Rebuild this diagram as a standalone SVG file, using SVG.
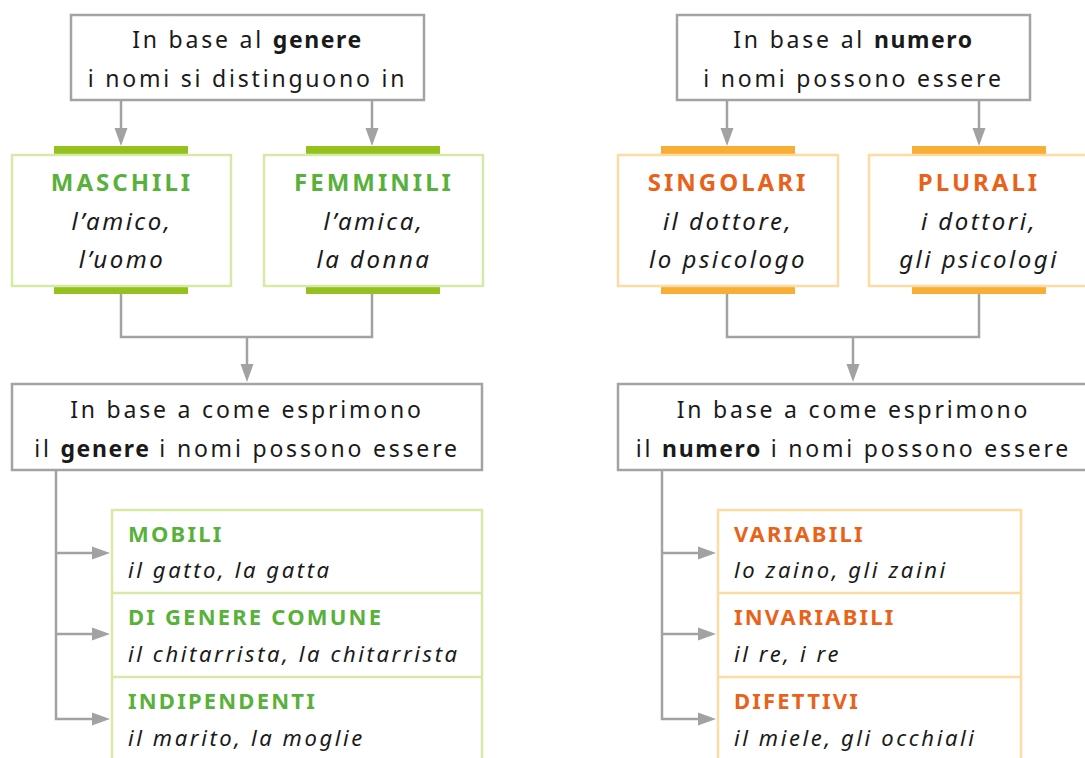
<svg xmlns="http://www.w3.org/2000/svg" width="1085" height="758" viewBox="0 0 1085 758">
<style>
.bg{fill:#ffffff}
.gbox{fill:#ffffff;stroke:#a3a3a3;stroke-width:2.5}
.grn{fill:#ffffff;stroke:#d6e9a6;stroke-width:2.5}
.org{fill:#ffffff;stroke:#fedba5;stroke-width:2.5}
.gbar{fill:#95c11f}
.obar{fill:#f8ae35}
.ln{fill:none;stroke:#a2a2a2;stroke-width:2.5}
.ah{fill:#a2a2a2}
text{font-family:"Noto Sans","Open Sans","DejaVu Sans",sans-serif;fill:#1a1a1a}
.t{font-size:23px;letter-spacing:2.8px;text-anchor:middle}
.b{font-weight:700;letter-spacing:1.6px}
.cat{font-size:24px;font-weight:700;letter-spacing:3px;text-anchor:middle}
.ex{font-size:24px;font-style:italic;letter-spacing:2.5px;text-anchor:middle}
.lab{font-size:22px;font-weight:700;letter-spacing:2.2px}
.lex{font-size:22px;font-style:italic;letter-spacing:2.6px}
.gt{fill:#58b13a}
.ot{fill:#e9621a}
</style>
<rect class="bg" x="0" y="0" width="1085" height="758"/>

<g id="connectors">
  <line class="ln" x1="121" y1="101" x2="121" y2="132"/>
  <polygon class="ah" points="114.5,128 127.5,128 121,146"/>
  <line class="ln" x1="372" y1="101" x2="372" y2="132"/>
  <polygon class="ah" points="365.5,128 378.5,128 372,146"/>
  <polyline class="ln" points="121,294 121,337 372,337 372,294"/>
  <line class="ln" x1="247" y1="337" x2="247" y2="368"/>
  <polygon class="ah" points="240.5,364 253.5,364 247,382"/>
  <polyline class="ln" points="56,470 56,719 95,719"/>
  <line class="ln" x1="56" y1="553" x2="95" y2="553"/>
  <line class="ln" x1="56" y1="634" x2="95" y2="634"/>
  <polygon class="ah" points="92,546.5 92,559.5 110,553"/>
  <polygon class="ah" points="92,627.5 92,640.5 110,634"/>
  <polygon class="ah" points="92,712.5 92,725.5 110,719"/>
  <line class="ln" x1="727" y1="101" x2="727" y2="132"/>
  <polygon class="ah" points="720.5,128 733.5,128 727,146"/>
  <line class="ln" x1="979" y1="101" x2="979" y2="132"/>
  <polygon class="ah" points="972.5,128 985.5,128 979,146"/>
  <polyline class="ln" points="727,294 727,337 979,337 979,294"/>
  <line class="ln" x1="853" y1="337" x2="853" y2="368"/>
  <polygon class="ah" points="846.5,364 859.5,364 853,382"/>
  <polyline class="ln" points="662,470 662,719 701,719"/>
  <line class="ln" x1="662" y1="553" x2="701" y2="553"/>
  <line class="ln" x1="662" y1="634" x2="701" y2="634"/>
  <polygon class="ah" points="698,546.5 698,559.5 716,553"/>
  <polygon class="ah" points="698,627.5 698,640.5 716,634"/>
  <polygon class="ah" points="698,712.5 698,725.5 716,719"/>
</g>

<g id="genere-top">
  <rect class="gbox" x="71" y="15" width="353" height="85"/>
  <text class="t" x="247.5" y="48">In base al <tspan class="b">genere</tspan></text>
  <text class="t" x="247.5" y="87">i nomi si distinguono in</text>
</g>

<g id="maschili">
  <rect class="gbar" x="54" y="146" width="134" height="8"/>
  <rect class="gbar" x="54" y="286" width="134" height="8"/>
  <rect class="grn" x="12" y="155" width="219" height="131"/>
  <text class="cat gt" x="122" y="191">MASCHILI</text>
  <text class="ex" x="122" y="230">l’amico,</text>
  <text class="ex" x="122" y="268">l’uomo</text>
</g>

<g id="femminili">
  <rect class="gbar" x="306" y="146" width="134" height="8"/>
  <rect class="gbar" x="306" y="286" width="134" height="8"/>
  <rect class="grn" x="264" y="155" width="219" height="131"/>
  <text class="cat gt" x="374" y="191">FEMMINILI</text>
  <text class="ex" x="374" y="230">l’amica,</text>
  <text class="ex" x="374" y="268">la donna</text>
</g>

<g id="genere-come">
  <rect class="gbox" x="12" y="384" width="470" height="86"/>
  <text class="t" x="247" y="418">In base a come esprimono</text>
  <text class="t" x="247" y="457">il <tspan class="b">genere</tspan> i nomi possono essere</text>
</g>

<g id="genere-list">
  <rect class="grn" x="112" y="510" width="370" height="270"/>
  <line class="grn" x1="112" y1="593" x2="482" y2="593"/>
  <line class="grn" x1="112" y1="677" x2="482" y2="677"/>
</g>
<g id="mobili">
  <text class="lab gt" x="128" y="542">MOBILI</text>
  <text class="lex" x="128" y="578">il gatto, la gatta</text>
</g>
<g id="comune">
  <text class="lab gt" x="128" y="625">DI GENERE COMUNE</text>
  <text class="lex" x="128" y="662">il chitarrista, la chitarrista</text>
</g>
<g id="indipendenti">
  <text class="lab gt" x="128" y="709">INDIPENDENTI</text>
  <text class="lex" x="128" y="746">il marito, la moglie</text>
</g>

<g id="numero-top">
  <rect class="gbox" x="677" y="15" width="353" height="85"/>
  <text class="t" x="853.5" y="48">In base al <tspan class="b">numero</tspan></text>
  <text class="t" x="853.5" y="87">i nomi possono essere</text>
</g>

<g id="singolari">
  <rect class="obar" x="661" y="146" width="134" height="8"/>
  <rect class="obar" x="661" y="286" width="134" height="8"/>
  <rect class="org" x="618" y="155" width="220" height="131"/>
  <text class="cat ot" x="728" y="191">SINGOLARI</text>
  <text class="ex" x="728" y="230">il dottore,</text>
  <text class="ex" x="728" y="268">lo psicologo</text>
</g>

<g id="plurali">
  <rect class="obar" x="912" y="146" width="134" height="8"/>
  <rect class="obar" x="912" y="286" width="134" height="8"/>
  <rect class="org" x="869" y="155" width="220" height="131"/>
  <text class="cat ot" x="979" y="191">PLURALI</text>
  <text class="ex" x="979" y="230">i dottori,</text>
  <text class="ex" x="979" y="268">gli psicologi</text>
</g>

<g id="numero-come">
  <rect class="gbox" x="618" y="384" width="471" height="86"/>
  <text class="t" x="853.5" y="418">In base a come esprimono</text>
  <text class="t" x="853.5" y="457">il <tspan class="b">numero</tspan> i nomi possono essere</text>
</g>

<g id="numero-list">
  <rect class="org" x="718" y="510" width="303" height="270"/>
  <line class="org" x1="718" y1="593" x2="1021" y2="593"/>
  <line class="org" x1="718" y1="677" x2="1021" y2="677"/>
</g>
<g id="variabili">
  <text class="lab ot" x="734" y="542">VARIABILI</text>
  <text class="lex" x="734" y="578">lo zaino, gli zaini</text>
</g>
<g id="invariabili">
  <text class="lab ot" x="734" y="625">INVARIABILI</text>
  <text class="lex" x="734" y="662">il re, i re</text>
</g>
<g id="difettivi">
  <text class="lab ot" x="734" y="709">DIFETTIVI</text>
  <text class="lex" x="734" y="746">il miele, gli occhiali</text>
</g>
</svg>
